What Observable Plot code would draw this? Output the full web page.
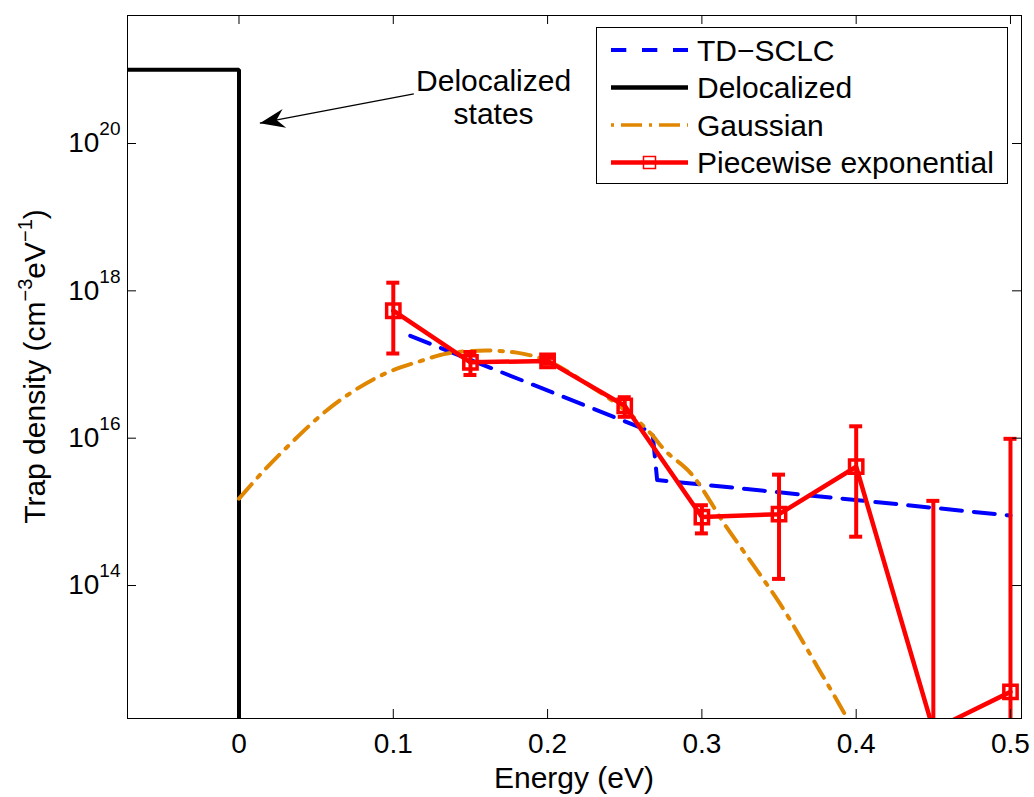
<!DOCTYPE html>
<html>
<head>
<meta charset="utf-8">
<script src="https://cdn.jsdelivr.net/npm/d3@7"></script>
<script src="https://cdn.jsdelivr.net/npm/@observablehq/plot@0.6"></script>
<style>
  html, body { margin: 0; padding: 0; background: white; }
  #chart { width: 1034px; height: 797px; }
</style>
</head>
<body>
<div id="chart"></div>
<script>
// ---------- data ----------
const xTicks = [0, 0.1, 0.2, 0.3, 0.4, 0.5];
const yTicks = [1e14, 1e16, 1e18, 1e20];

// Delocalized states (step at E = 0)
const delocEnergy  = [-0.1, 0, 0];
const delocDensity = [1e21, 1e21, 1e10];

// TD-SCLC (dashed blue)
const tdEnergy  = [0.111, 0.268, 0.271, 0.5];
const tdDensity = [2.45e17, 1.2e16, 2.7e15, 8.9e14];

// Gaussian (dash-dot orange)
const gaussEnergy  = [0, 0.016, 0.0355, 0.053, 0.073, 0.095, 0.118, 0.135, 0.16, 0.18, 0.2, 0.227, 0.25, 0.267, 0.275, 0.293, 0.316, 0.336, 0.351, 0.375, 0.393, 0.40];
const gaussDensity = [1.51e15, 3.6e15, 9.3e15, 2.04e16, 4.2e16, 7.6e16, 1.12e17, 1.41e17, 1.55e17, 1.45e17, 1.12e17, 5.2e16, 2.4e16, 1.15e16, 7.2e15, 3.3e15, 6.2e14, 1.58e14, 5.5e13, 7.8e12, 1.74e12, 9.5e11];

// Piecewise exponential (red, with error bars)
const peEnergy  = [0.1, 0.15, 0.2, 0.25, 0.3, 0.35, 0.4, 0.45, 0.5];
const peDensity = [5.37e17, 1.07e17, 1.12e17, 2.75e16, 8.5e14, 9.3e14, 4.1e15, 1.1e12, 3.6e12];
const peUpper   = [1.29e18, 1.48e17, 1.23e17, 3.6e16, 1.23e15, 3.2e15, 1.45e16, 1.41e15, 9.8e15];
const peLower   = [1.41e17, 7.2e16, 1.02e17, 1.95e16, 5.1e14, 1.23e14, 4.6e14, 1e11, 1e11];

// annotation
const annotText = "Delocalized\nstates";
const annotPos  = {x: 0.165, y: 1.087e21};
const arrowTail = {x: 0.1133, y: 4.73e20};
const arrowTip  = {x: 0.0135, y: 1.89e20};

// legend
const legendLabels = ["TD\u2212SCLC", "Delocalized", "Gaussian", "Piecewise exponential"];

// ---------- table building ----------
const deloc = delocEnergy.map((e, i) => ({e, d: delocDensity[i]}));
const td = tdEnergy.map((e, i) => ({e, d: tdDensity[i]}));
const gauss = gaussEnergy.map((e, i) => ({e, d: gaussDensity[i]}));
const pe = peEnergy.map((e, i) => ({e, d: peDensity[i], hi: peUpper[i], lo: peLower[i]}));

const BLUE = "#0000ff", RED = "#ff0000", ORANGE = "#e08600", BLACK = "#000000";
const FONT = "'Liberation Sans', Arial, Helvetica, sans-serif";
const W = 1034, H = 797, ML = 127, MR = 13, MT = 15, MB = 79;
const PW = W - ML - MR, PH = H - MT - MB;

const arrowHead = {
  draw(ctx) {
    ctx.moveTo(0, 0);
    ctx.lineTo(-25, -9.5);
    ctx.lineTo(-17, 0);
    ctx.lineTo(-25, 9.5);
    ctx.closePath();
  }
};

function makePlot(angle) {
  return Plot.plot({
    width: W, height: H,
    marginLeft: ML, marginRight: MR, marginTop: MT, marginBottom: MB,
    style: {fontFamily: FONT, fontSize: "28px", background: "white", color: "black"},
    x: {domain: [-0.07226, 0.50714]},
    y: {type: "log", domain: [10 ** 12.195, 10 ** 21.7375]},
    marks: [
      // data
      Plot.line(deloc, {x: "e", y: "d", stroke: BLACK, strokeWidth: 4, strokeLinejoin: "miter", clip: true}),
      Plot.line(td, {x: "e", y: "d", stroke: BLUE, strokeWidth: 4, strokeDasharray: "21,12", clip: true}),
      Plot.line(gauss, {x: "e", y: "d", stroke: ORANGE, strokeWidth: 4, strokeDasharray: "19,9,3.5,9", curve: "monotone-x", clip: true}),
      Plot.ruleX(pe, {x: "e", y1: "lo", y2: "hi", stroke: RED, strokeWidth: 4, clip: true}),
      Plot.ruleY(pe, {y: "hi", x1: "e", x2: "e", insetLeft: -6.5, insetRight: -6.5, stroke: RED, strokeWidth: 4, clip: true}),
      Plot.ruleY(pe, {y: "lo", x1: "e", x2: "e", insetLeft: -6.5, insetRight: -6.5, stroke: RED, strokeWidth: 4, clip: true}),
      Plot.line(pe, {x: "e", y: "d", stroke: RED, strokeWidth: 4.5, clip: true}),
      Plot.dot(pe, {x: "e", y: "d", symbol: "square", r: 7.5, stroke: RED, strokeWidth: 3.5, fill: "none", clip: true}),
      // annotation
      Plot.text([annotPos], {x: "x", y: "y", text: () => annotText, fontSize: 30, lineAnchor: "top", lineHeight: 1.11, textAnchor: "middle", fill: BLACK}),
      Plot.link([{t: arrowTail, h: arrowTip}], {x1: d => d.t.x, y1: d => d.t.y, x2: d => d.h.x, y2: d => d.h.y, stroke: BLACK, strokeWidth: 1.3}),
      Plot.dot([arrowTip], {x: "x", y: "y", symbol: arrowHead, r: 5, fill: BLACK, stroke: "none", rotate: angle}),
      // ticks (inward, mirrored)
      Plot.tickX(xTicks, {x: d => d, insetTop: PH - 9, stroke: BLACK, strokeWidth: 1}),
      Plot.tickX(xTicks, {x: d => d, insetBottom: PH - 9, stroke: BLACK, strokeWidth: 1}),
      Plot.tickY(yTicks, {y: d => d, insetRight: PW - 9, stroke: BLACK, strokeWidth: 1}),
      Plot.tickY(yTicks, {y: d => d, insetLeft: PW - 9, stroke: BLACK, strokeWidth: 1}),
      Plot.axisX({ticks: xTicks, tickSize: 0, tickPadding: 15, fontSize: 28, label: null, tickFormat: d => String(d)}),
      Plot.axisY({ticks: yTicks, tickSize: 0, tickPadding: 7, fontSize: 28, label: null, tickFormat: d => "10^" + Math.round(Math.log10(d))}),
      Plot.frame({stroke: BLACK, strokeWidth: 1})
    ]
  });
}

// first pass to measure the arrow direction in screen space
const probe = makePlot(0);
const sx = probe.scale("x"), sy = probe.scale("y");
const dx = sx.apply(arrowTip.x) - sx.apply(arrowTail.x);
const dy = sy.apply(arrowTip.y) - sy.apply(arrowTail.y);
const angle = Math.atan2(dy, dx) * 180 / Math.PI;

const chart = makePlot(angle);
document.getElementById("chart").append(chart);

const ns = "http://www.w3.org/2000/svg";
const svg = d3.select(chart);

// superscript exponents on y tick labels
chart.querySelectorAll('g[aria-label="y-axis tick label"] text').forEach(t => {
  const [b, e] = t.textContent.split("^");
  t.textContent = "";
  const s1 = document.createElementNS(ns, "tspan");
  s1.textContent = b;
  const s2 = document.createElementNS(ns, "tspan");
  s2.setAttribute("dy", "-17");
  s2.setAttribute("font-size", "19");
  s2.textContent = e;
  t.append(s1, s2);
});

// axis labels
svg.append("text")
  .attr("x", ML + PW / 2).attr("y", 788)
  .attr("text-anchor", "middle")
  .attr("font-family", FONT).attr("font-size", 30).attr("fill", "black")
  .text("Energy (eV)");

const yl = svg.append("text")
  .attr("transform", `translate(45,${MT + PH / 2}) rotate(-90)`)
  .attr("text-anchor", "middle")
  .attr("font-family", FONT).attr("font-size", 30).attr("fill", "black");
yl.append("tspan").text("Trap density (cm");
yl.append("tspan").attr("dy", -13).attr("font-size", 20).text("\u22123");
yl.append("tspan").attr("dy", 13).text("eV");
yl.append("tspan").attr("dy", -13).attr("font-size", 20).text("\u22121");
yl.append("tspan").attr("dy", 13).text(")");

// legend
const lg = svg.append("g").attr("font-family", FONT).attr("font-size", 30).attr("text-anchor", "start");
lg.append("rect").attr("x", 596.5).attr("y", 27.5).attr("width", 411).attr("height", 156)
  .attr("fill", "white").attr("stroke", "black").attr("stroke-width", 1);
const legendStyles = [
  {stroke: BLUE, width: 4, dash: "15.3,15.7"},
  {stroke: BLACK, width: 4.5, dash: null},
  {stroke: ORANGE, width: 3.5, dash: "3,7,21,7"},
  {stroke: RED, width: 4.5, dash: null, marker: true}
];
legendLabels.forEach((label, i) => {
  const cy = 50 + i * 37.5;
  const st = legendStyles[i];
  const ln = lg.append("line").attr("x1", 611).attr("x2", 688).attr("y1", cy).attr("y2", cy)
    .attr("stroke", st.stroke).attr("stroke-width", st.width);
  if (st.dash) ln.attr("stroke-dasharray", st.dash);
  if (st.marker) {
    lg.append("rect").attr("x", 643.5).attr("y", cy - 6).attr("width", 12).attr("height", 12)
      .attr("fill", "none").attr("stroke", RED).attr("stroke-width", 1.5);
  }
  lg.append("text").attr("x", 697).attr("y", cy + 10.5).attr("text-anchor", "start").attr("fill", "black").text(label);
});
</script>
</body>
</html>
